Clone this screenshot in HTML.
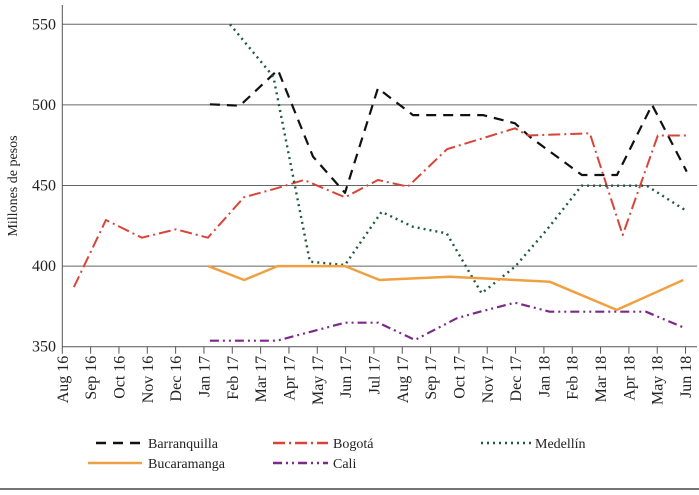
<!DOCTYPE html>
<html><head><meta charset="utf-8"><style>
html,body{margin:0;padding:0;background:#fff;}
svg{display:block;font-family:"Liberation Serif",serif;}
</style></head><body>
<svg id="chart" width="699" height="495" viewBox="0 0 699 495" xmlns="http://www.w3.org/2000/svg">
<g id="grid"></g>
<g id="yaxis"></g>
<g id="xaxis"></g>
<g id="series"></g>
<text transform="translate(17,186) rotate(-90)" text-anchor="middle" font-size="14" fill="#222">Millones de pesos</text>
<g font-size="14" fill="#222">
  <g><line x1="96" y1="443" x2="142" y2="443" stroke="#111" stroke-width="2.5" stroke-dasharray="10,7"/><text x="148" y="448">Barranquilla</text></g>
  <g><line x1="273" y1="443" x2="328" y2="443" stroke="#d9443a" stroke-width="2.5" stroke-dasharray="12,4,2,4"/><text x="333" y="448">Bogotá</text></g>
  <g><line x1="481" y1="443" x2="531" y2="443" stroke="#1d5a3a" stroke-width="2.5" stroke-dasharray="2,4"/><text x="535" y="448">Medellín</text></g>
  <g><line x1="88" y1="463" x2="142" y2="463" stroke="#f0a040" stroke-width="2.5"/><text x="148" y="468">Bucaramanga</text></g>
  <g><line x1="273" y1="463" x2="328" y2="463" stroke="#7b2a8a" stroke-width="2.5" stroke-dasharray="9,4,2,4,2,4"/><text x="333" y="468">Cali</text></g>
</g>
<line x1="0" y1="489" x2="699" y2="489" stroke="#222" stroke-width="1.2"/>
</svg>
<script>
const months = ["Aug 16","Sep 16","Oct 16","Nov 16","Dec 16","Jan 17","Feb 17","Mar 17","Apr 17","May 17","Jun 17","Jul 17","Aug 17","Sep 17","Oct 17","Nov 17","Dec 17","Jan 18","Feb 18","Mar 18","Apr 18","May 18","Jun 18"];
const yTicks = [350,400,450,500,550];
// time positions (month index, fractional) and values
const barranquillaT = [5.21,6.27,7.61,8.85,9.98,11.14,12.38,13.6,14.85,15.98,16.5,18.34,19.58,20.82,22.04];
const barranquillaV = [500.4,499.5,521.7,467.9,445.5,510.3,493.7,493.7,493.7,488.6,480.3,456.5,456.5,500,458.6];
const bogotaT = [0.41,1.54,2.81,4.01,5.14,6.41,7.58,8.53,9.98,11.14,12.2,13.58,15.98,16.44,18.62,19.78,21.02,22.04];
const bogotaV = [387,428.6,417.6,422.8,417.6,442.7,448.3,453.4,442.7,453.4,449.3,472.5,485.5,481,482.4,419.3,481,481];
const medellinT = [5.92,7.45,8.74,9.98,11.27,12.38,13.57,14.8,15.98,17.1,18.33,20.63,21.98];
const medellinV = [550,517.5,402.7,400.7,433.7,424.4,420.3,383.1,399.6,422.4,449.9,449.9,434.8];
const bucaramangaT = [5.15,6.42,7.6,9.98,11.2,13.67,17.2,19.57,21.92];
const bucaramangaV = [400,391.4,400,400,391.4,393.4,390.3,372.8,391.4];
const caliT = [5.21,7.57,9.98,11.15,12.45,13.92,14.74,15.98,17.2,20.6,21.92];
const caliV = [353.7,353.7,364.9,364.9,354.2,367.6,371.7,377.3,371.7,371.7,362];

const NS="http://www.w3.org/2000/svg";
const X0=62.3, DX=28.33, Y350=346.7, PX=80.6/50;
const xs=t=>X0+t*DX;
const ys=v=>Y350-(v-350)*PX;
function mk(tag,attrs,parent){const e=document.createElementNS(NS,tag);for(const k in attrs)e.setAttribute(k,attrs[k]);parent.appendChild(e);return e;}
const grid=document.getElementById('grid'),ya=document.getElementById('yaxis'),xa=document.getElementById('xaxis'),sg=document.getElementById('series');
yTicks.forEach(v=>{
  if(v>350){const l=mk('line',{x1:X0,x2:697,y1:ys(v),y2:ys(v),stroke:'#666','stroke-width':1},grid);
  
  }
  const t=mk('text',{x:56,y:ys(v)+5,'text-anchor':'end','font-size':16,fill:'#222'},ya);
  t.textContent=v;
  
  
});
const yl=mk('line',{x1:X0,x2:X0,y1:5,y2:Y350,stroke:'#555','stroke-width':1},ya);


const xl=mk('line',{x1:X0,x2:697,y1:Y350,y2:Y350,stroke:'#555','stroke-width':1},xa);


months.forEach((m,i)=>{
  const x=xs(i);
  const tk=mk('line',{x1:x,x2:x,y1:Y350,y2:Y350+7,stroke:'#555','stroke-width':1},xa);
  
  
  const t=mk('text',{transform:`translate(${x+5.5},${Y350+9}) rotate(-90)`,'text-anchor':'end','font-size':16,fill:'#222'},xa);
  t.textContent=m;
  
  
});
const defs=[
 ['barranquilla',barranquillaT,barranquillaV,'#111','10,7',2.2],
 ['bogota',bogotaT,bogotaV,'#d9443a','12,4,2,4',2],
 ['medellin',medellinT,medellinV,'#1d5a3a','2,4',2.4],
 ['bucaramanga',bucaramangaT,bucaramangaV,'#f0a040','',2.5],
 ['cali',caliT,caliV,'#7b2a8a','9,4,2,4,2,4',2.2]
];
defs.forEach(([n,T,V,c,d,w])=>{
  const pts=T.map((t,i)=>xs(t).toFixed(1)+','+ys(V[i]).toFixed(1)).join(' ');
  const a={points:pts,fill:'none',stroke:c,'stroke-width':w,'stroke-linejoin':'round'};
  if(d)a['stroke-dasharray']=d;
  const p=mk('polyline',a,sg);
  
  
});
</script>
</body></html>
